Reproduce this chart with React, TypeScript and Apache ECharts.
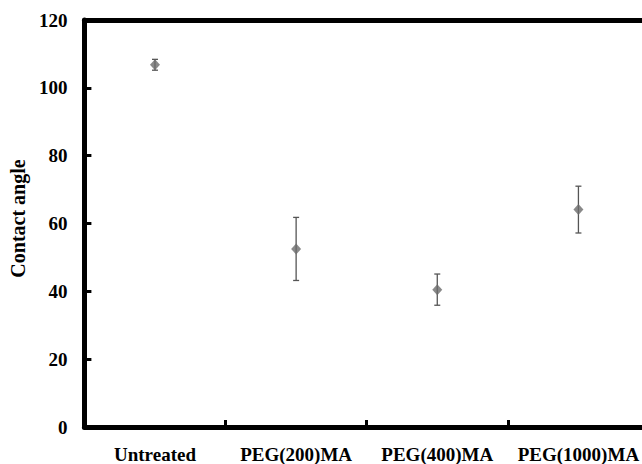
import React, { useEffect, useRef } from "react";
import * as echarts from "echarts";

const categories = ["Untreated", "PEG(200)MA", "PEG(400)MA", "PEG(1000)MA"];
const means = [106.8, 52.5, 40.5, 64.1];
const errors = [1.6, 9.3, 4.6, 6.9];
const yTicks = [0, 20, 40, 60, 80, 100, 120];

const FONT = "'Liberation Serif', 'Times New Roman', serif";

export default function App() {
  const ref = useRef<HTMLDivElement>(null);
  useEffect(() => {
    if (!ref.current) return;
    const chart = echarts.init(ref.current, undefined, { renderer: "svg" });
    const errData = categories.map((c, i) => [i, means[i] - errors[i], means[i] + errors[i]]);
    chart.setOption({
      animation: false,
      grid: {
        left: 81,
        right: 1,
        top: 20,
        bottom: 37,
      },
      xAxis: [
        {
          type: "category",
          data: categories,
          boundaryGap: true,
          axisLine: { show: true, lineStyle: { color: "#000", width: 5 } },
          axisTick: { show: true, inside: true, interval: 0, length: 7, lineStyle: { color: "#000", width: 3 } },
          axisLabel: {
            interval: 0,
            color: "#000",
            fontFamily: FONT,
            fontWeight: "bold",
            fontSize: 19,
            margin: 18,
          },
          splitLine: { show: false },
        },
        {
          type: "category",
          position: "top",
          data: categories,
          axisLine: { show: true, lineStyle: { color: "#000", width: 5 } },
          axisTick: { show: false },
          axisLabel: { show: false },
          splitLine: { show: false },
        },
      ],
      yAxis: {
        type: "value",
        min: yTicks[0],
        max: yTicks[yTicks.length - 1],
        interval: 20,
        name: "Contact angle",
        nameLocation: "middle",
        nameGap: 54,
        nameTextStyle: {
          color: "#000",
          fontFamily: FONT,
          fontWeight: "bold",
          fontSize: 20,
          padding: [0, 0, 0, 10],
        },
        axisLine: { show: true, lineStyle: { color: "#000", width: 5 } },
        axisTick: { show: true, inside: true, length: 7, lineStyle: { color: "#000", width: 3 } },
        axisLabel: {
          color: "#000",
          fontFamily: FONT,
          fontWeight: "bold",
          fontSize: 19,
          margin: 17,
        },
        splitLine: { show: false },
      },
      series: [
        {
          type: "custom",
          data: errData,
          renderItem: (params: any, api: any) => {
            const x = api.value(0);
            const lo = api.coord([x, api.value(1)]);
            const hi = api.coord([x, api.value(2)]);
            const cap = 3;
            const style = { stroke: "#555", lineWidth: 1.3 };
            return {
              type: "group",
              children: [
                { type: "line", shape: { x1: lo[0], y1: lo[1], x2: hi[0], y2: hi[1] }, style },
                { type: "line", shape: { x1: lo[0] - cap, y1: lo[1], x2: lo[0] + cap, y2: lo[1] }, style },
                { type: "line", shape: { x1: hi[0] - cap, y1: hi[1], x2: hi[0] + cap, y2: hi[1] }, style },
              ],
            };
          },
          z: 2,
        },
        {
          type: "scatter",
          data: means,
          symbol: "diamond",
          symbolSize: [10, 11],
          itemStyle: { color: "#6b6b6b" },
          z: 3,
        },
      ],
    });
    return () => chart.dispose();
  }, []);
  return (
    <div style={{ width: 642, height: 464, position: "absolute", left: 0, top: 0, overflow: "hidden" }}>
      <div ref={ref} style={{ width: 650, height: 464 }} />
    </div>
  );
}
